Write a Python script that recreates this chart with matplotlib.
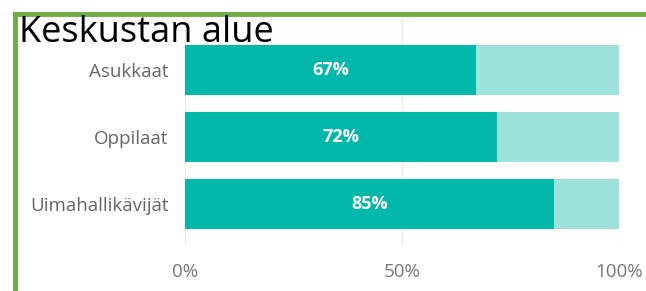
import matplotlib.pyplot as plt
from matplotlib.lines import Line2D

# data
categories = ['Asukkaat', 'Oppilaat', 'Uimahallikävijät']
values = [67, 72, 85]
ticks = [0, 50, 100]
tick_labels = ['0%', '50%', '100%']

dark = '#01B8AA'
light = '#9DE3DC'
green = '#70AD47'

fig = plt.figure(figsize=(6.46, 2.91), dpi=100)
W, H = 646, 291
ax = fig.add_axes([185 / W, 1 - 245 / H, (619 - 185) / W, (245 - 18) / H])

y = range(len(categories))
ax.barh(y, [100] * len(values), height=0.75, color=light, zorder=2)
ax.barh(y, values, height=0.75, color=dark, zorder=3)
for i, v in enumerate(values):
    ax.text(v / 2, i, f'{v}%', color='white', fontweight='bold', fontsize=13,
            ha='center', va='center', family='Open Sans', zorder=4)

ax.set_xlim(0, 100)
ax.set_ylim(2.61, -0.78)
ax.set_yticks(list(y))
ax.set_yticklabels(categories, fontsize=13.5, color='#666666', family='Open Sans')
ax.set_xticks(ticks)
ax.set_xticklabels(tick_labels, fontsize=13.5, color='#777777', family='Open Sans')
ax.tick_params(length=0, axis='y', pad=12)
ax.tick_params(length=0, axis='x', pad=13)
for s in ax.spines.values():
    s.set_visible(False)
ax.grid(axis='x', color='#EBEBEB', lw=1, zorder=0)

# green frame (top and left)
fig.add_artist(Line2D([15 / W, 1], [1 - 13.5 / H, 1 - 13.5 / H], color=green, lw=3.5))
fig.add_artist(Line2D([15 / W, 15 / W], [0, 1 - 13.5 / H], color=green, lw=3.5))

fig.text(19 / W, 1 - 33 / H, 'Keskustan alue', fontsize=26, color='black',
         va='center', ha='left', family='Open Sans', zorder=5)

fig.savefig('out.png', dpi=100)
